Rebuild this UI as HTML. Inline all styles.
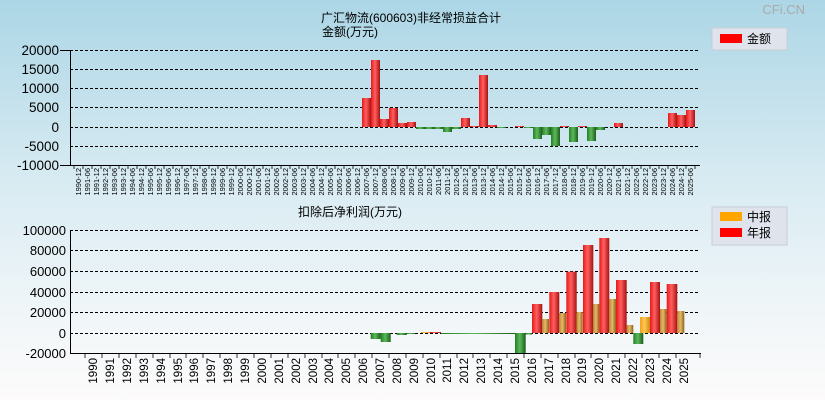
<!DOCTYPE html>
<html><head><meta charset="utf-8"><style>
html,body{margin:0;padding:0;width:825px;height:400px;overflow:hidden;}
body{background:linear-gradient(#acd6e6,#d8ebf2 45%,#eef5f8 75%,#fdfbfb);font-family:"Liberation Sans","Noto Sans CJK SC",sans-serif;}
svg{display:block;}
svg text{font-family:"Liberation Sans","Noto Sans CJK SC",sans-serif;}
</style></head><body>
<svg width="825" height="400" xmlns="http://www.w3.org/2000/svg">
<defs>
<linearGradient id="r" x1="0" x2="1"><stop offset="0" stop-color="#e81818"/><stop offset="0.45" stop-color="#ff6060"/><stop offset="1" stop-color="#a81010"/></linearGradient>
<linearGradient id="g" x1="0" x2="1"><stop offset="0" stop-color="#238023"/><stop offset="0.45" stop-color="#5cb85c"/><stop offset="1" stop-color="#1a5e1a"/></linearGradient>
<linearGradient id="t" x1="0" x2="1"><stop offset="0" stop-color="#b88a30"/><stop offset="0.45" stop-color="#e8b868"/><stop offset="1" stop-color="#8a6420"/></linearGradient>
<linearGradient id="o" x1="0" x2="1"><stop offset="0" stop-color="#f0a020"/><stop offset="0.45" stop-color="#ffc850"/><stop offset="1" stop-color="#d08810"/></linearGradient>
</defs>
<text x="805" y="14" font-size="13" fill="#aaa" text-anchor="end">CFi.CN</text>
<text x="411" y="22" font-size="12" text-anchor="middle">广汇物流(600603)非经常损益合计</text>
<text x="350" y="36" font-size="12" text-anchor="middle">金额(万元)</text>
<text x="350" y="216" font-size="12" text-anchor="middle">扣除后净利润(万元)</text>

<rect x="712" y="28" width="75" height="22" fill="#dfe4ec" stroke="#c8ccd4"/>
<rect x="720" y="34" width="22" height="9" fill="#f00"/>
<text x="747" y="43" font-size="12">金额</text>
<rect x="712" y="207" width="75" height="38" fill="#dfe4ec" stroke="#c8ccd4"/>
<rect x="720" y="212" width="22" height="9" fill="#ffa500"/>
<text x="747" y="221" font-size="12">中报</text>
<rect x="720" y="228" width="22" height="9" fill="#f00"/>
<text x="747" y="237" font-size="12">年报</text>

<g stroke="#000" stroke-dasharray="3,2" stroke-width="1">
<line x1="70" x2="700" y1="50.5" y2="50.5"/><line x1="70" x2="700" y1="69.5" y2="69.5"/><line x1="70" x2="700" y1="88.5" y2="88.5"/><line x1="70" x2="700" y1="107.5" y2="107.5"/><line x1="70" x2="700" y1="127.5" y2="127.5"/><line x1="70" x2="700" y1="146.5" y2="146.5"/>
</g>
<g font-size="13.5" text-anchor="end">
<text x="59" y="55">20000</text><text x="59" y="74">15000</text><text x="59" y="93">10000</text><text x="59" y="112">5000</text><text x="59" y="132">0</text><text x="59" y="151">-5000</text><text x="59" y="170">-10000</text>
</g>
<g stroke="#000"><line x1="60" x2="70" y1="50.5" y2="50.5"/><line x1="60" x2="70" y1="165.5" y2="165.5"/></g>
<g>
<rect x="364" y="100" width="9" height="27" fill="#999"/>
<rect x="362" y="98" width="9" height="29" fill="url(#r)"/>
<rect x="371" y="60" width="9" height="67" fill="url(#r)"/>
<rect x="380" y="119" width="9" height="8" fill="url(#r)"/>
<rect x="389" y="108" width="9" height="19" fill="url(#r)"/>
<rect x="398" y="123" width="9" height="4" fill="url(#r)"/>
<rect x="407" y="122" width="9" height="5" fill="url(#r)"/>
<rect x="416" y="127" width="9" height="2" fill="url(#g)"/>
<rect x="425" y="127" width="9" height="2" fill="url(#g)"/>
<rect x="434" y="127" width="9" height="2" fill="url(#g)"/>
<rect x="443" y="127" width="9" height="5" fill="url(#g)"/>
<rect x="452" y="127" width="9" height="2" fill="url(#g)"/>
<rect x="461" y="118" width="9" height="9" fill="url(#r)"/>
<rect x="470" y="126" width="9" height="1" fill="url(#r)"/>
<rect x="479" y="75" width="9" height="52" fill="url(#r)"/>
<rect x="488" y="125" width="9" height="2" fill="url(#r)"/>
<rect x="497" y="127" width="9" height="1" fill="url(#g)"/>
<rect x="515" y="126" width="9" height="1" fill="url(#r)"/>
<rect x="524" y="127" width="9" height="1" fill="url(#g)"/>
<rect x="533" y="127" width="9" height="12" fill="url(#g)"/>
<rect x="542" y="127" width="9" height="8" fill="url(#g)"/>
<rect x="551" y="127" width="9" height="19" fill="url(#g)"/>
<rect x="560" y="126" width="9" height="1" fill="url(#r)"/>
<rect x="569" y="127" width="9" height="15" fill="url(#g)"/>
<rect x="578" y="126" width="9" height="1" fill="url(#r)"/>
<rect x="587" y="127" width="9" height="14" fill="url(#g)"/>
<rect x="596" y="127" width="9" height="3" fill="url(#g)"/>
<rect x="614" y="123" width="9" height="4" fill="url(#r)"/>
<rect x="668" y="113" width="9" height="14" fill="url(#r)"/>
<rect x="677" y="115" width="9" height="12" fill="url(#r)"/>
<rect x="686" y="110" width="9" height="17" fill="url(#r)"/>
</g>
<g stroke="#000"><line x1="70.5" x2="70.5" y1="50" y2="166"/><line x1="70" x2="700" y1="165.5" y2="165.5"/></g>
<g stroke="#000" stroke-width="0.8">
<path d="M74 166v3M83 166v3M92 166v3M101 166v3M110 166v3M119 166v3M128 166v3M137 166v3M146 166v3M155 166v3M164 166v3M173 166v3M182 166v3M191 166v3M200 166v3M209 166v3M218 166v3M227 166v3M236 166v3M245 166v3M254 166v3M263 166v3M272 166v3M281 166v3M290 166v3M299 166v3M308 166v3M317 166v3M326 166v3M335 166v3M344 166v3M353 166v3M362 166v3M371 166v3M380 166v3M389 166v3M398 166v3M407 166v3M416 166v3M425 166v3M434 166v3M443 166v3M452 166v3M461 166v3M470 166v3M479 166v3M488 166v3M497 166v3M506 166v3M515 166v3M524 166v3M533 166v3M542 166v3M551 166v3M560 166v3M569 166v3M578 166v3M587 166v3M596 166v3M605 166v3M614 166v3M623 166v3M632 166v3M641 166v3M650 166v3M659 166v3M668 166v3M677 166v3M686 166v3M695 166v3"/>
</g>
<g font-size="7.5" text-anchor="end">
<text transform="translate(81,168) rotate(-90)">1990-12</text>
<text transform="translate(90,168) rotate(-90)">1991-06</text>
<text transform="translate(99,168) rotate(-90)">1991-12</text>
<text transform="translate(108,168) rotate(-90)">1992-12</text>
<text transform="translate(117,168) rotate(-90)">1993-06</text>
<text transform="translate(126,168) rotate(-90)">1993-12</text>
<text transform="translate(135,168) rotate(-90)">1994-06</text>
<text transform="translate(144,168) rotate(-90)">1994-12</text>
<text transform="translate(153,168) rotate(-90)">1995-06</text>
<text transform="translate(162,168) rotate(-90)">1995-12</text>
<text transform="translate(171,168) rotate(-90)">1996-06</text>
<text transform="translate(180,168) rotate(-90)">1996-12</text>
<text transform="translate(189,168) rotate(-90)">1997-06</text>
<text transform="translate(198,168) rotate(-90)">1997-12</text>
<text transform="translate(207,168) rotate(-90)">1998-06</text>
<text transform="translate(216,168) rotate(-90)">1998-12</text>
<text transform="translate(225,168) rotate(-90)">1999-06</text>
<text transform="translate(234,168) rotate(-90)">1999-12</text>
<text transform="translate(243,168) rotate(-90)">2000-06</text>
<text transform="translate(252,168) rotate(-90)">2000-12</text>
<text transform="translate(261,168) rotate(-90)">2001-06</text>
<text transform="translate(270,168) rotate(-90)">2001-12</text>
<text transform="translate(279,168) rotate(-90)">2002-06</text>
<text transform="translate(288,168) rotate(-90)">2002-12</text>
<text transform="translate(297,168) rotate(-90)">2003-06</text>
<text transform="translate(306,168) rotate(-90)">2003-12</text>
<text transform="translate(315,168) rotate(-90)">2004-06</text>
<text transform="translate(324,168) rotate(-90)">2004-12</text>
<text transform="translate(333,168) rotate(-90)">2005-06</text>
<text transform="translate(342,168) rotate(-90)">2005-12</text>
<text transform="translate(351,168) rotate(-90)">2006-06</text>
<text transform="translate(360,168) rotate(-90)">2006-12</text>
<text transform="translate(369,168) rotate(-90)">2007-06</text>
<text transform="translate(378,168) rotate(-90)">2007-12</text>
<text transform="translate(387,168) rotate(-90)">2008-06</text>
<text transform="translate(396,168) rotate(-90)">2008-12</text>
<text transform="translate(405,168) rotate(-90)">2009-06</text>
<text transform="translate(414,168) rotate(-90)">2009-12</text>
<text transform="translate(423,168) rotate(-90)">2010-06</text>
<text transform="translate(432,168) rotate(-90)">2010-12</text>
<text transform="translate(441,168) rotate(-90)">2011-06</text>
<text transform="translate(450,168) rotate(-90)">2011-12</text>
<text transform="translate(459,168) rotate(-90)">2012-06</text>
<text transform="translate(468,168) rotate(-90)">2012-12</text>
<text transform="translate(477,168) rotate(-90)">2013-06</text>
<text transform="translate(486,168) rotate(-90)">2013-12</text>
<text transform="translate(495,168) rotate(-90)">2014-06</text>
<text transform="translate(504,168) rotate(-90)">2014-12</text>
<text transform="translate(513,168) rotate(-90)">2015-06</text>
<text transform="translate(522,168) rotate(-90)">2015-12</text>
<text transform="translate(531,168) rotate(-90)">2016-06</text>
<text transform="translate(540,168) rotate(-90)">2016-12</text>
<text transform="translate(549,168) rotate(-90)">2017-06</text>
<text transform="translate(558,168) rotate(-90)">2017-12</text>
<text transform="translate(567,168) rotate(-90)">2018-06</text>
<text transform="translate(576,168) rotate(-90)">2018-12</text>
<text transform="translate(585,168) rotate(-90)">2019-06</text>
<text transform="translate(594,168) rotate(-90)">2019-12</text>
<text transform="translate(603,168) rotate(-90)">2020-06</text>
<text transform="translate(612,168) rotate(-90)">2020-12</text>
<text transform="translate(621,168) rotate(-90)">2021-06</text>
<text transform="translate(630,168) rotate(-90)">2021-12</text>
<text transform="translate(639,168) rotate(-90)">2022-06</text>
<text transform="translate(648,168) rotate(-90)">2022-12</text>
<text transform="translate(657,168) rotate(-90)">2023-06</text>
<text transform="translate(666,168) rotate(-90)">2023-12</text>
<text transform="translate(675,168) rotate(-90)">2024-06</text>
<text transform="translate(684,168) rotate(-90)">2024-12</text>
<text transform="translate(693,168) rotate(-90)">2025-06</text>
</g>

<g stroke="#000" stroke-dasharray="3,2" stroke-width="1">
<line x1="70" x2="700" y1="230.5" y2="230.5"/><line x1="70" x2="700" y1="250.5" y2="250.5"/><line x1="70" x2="700" y1="271.5" y2="271.5"/><line x1="70" x2="700" y1="292.5" y2="292.5"/><line x1="70" x2="700" y1="312.5" y2="312.5"/><line x1="70" x2="700" y1="333.5" y2="333.5"/>
</g>
<g font-size="13" text-anchor="end">
<text x="66" y="235">100000</text><text x="66" y="255">80000</text><text x="66" y="276">60000</text><text x="66" y="297">40000</text><text x="66" y="317">20000</text><text x="66" y="338">0</text><text x="66" y="358">-20000</text>
</g>
<g>
<rect x="370.7" y="333" width="10" height="6" fill="url(#g)"/>
<rect x="380.7" y="333" width="10" height="9" fill="url(#g)"/>
<rect x="396.7" y="333" width="10" height="2" fill="url(#g)"/>
<rect x="406.7" y="333" width="8" height="1" fill="url(#g)"/>
<rect x="421" y="332" width="9" height="1" fill="url(#o)"/>
<rect x="430" y="332" width="11" height="1" fill="url(#r)"/>
<rect x="441" y="333" width="74" height="1" fill="url(#g)"/>
<rect x="515" y="333" width="10.7" height="20" fill="url(#g)"/>
<rect x="525.7" y="333" width="6.3" height="1.5" fill="url(#g)"/>
<rect x="532" y="304" width="10.3" height="29" fill="url(#r)"/>
<rect x="542.3" y="319" width="6.7" height="14" fill="url(#t)"/>
<rect x="549.3" y="292" width="10" height="41" fill="url(#r)"/>
<rect x="559.3" y="313" width="6.7" height="20" fill="url(#t)"/>
<rect x="566.3" y="271.7" width="10.4" height="61.3" fill="url(#r)"/>
<rect x="576.7" y="312" width="6" height="21" fill="url(#t)"/>
<rect x="583" y="245" width="10.3" height="88" fill="url(#r)"/>
<rect x="593.3" y="304" width="6" height="29" fill="url(#t)"/>
<rect x="599.3" y="238" width="10" height="95" fill="url(#r)"/>
<rect x="609.3" y="299" width="6.7" height="34" fill="url(#t)"/>
<rect x="616" y="280" width="10.7" height="53" fill="url(#r)"/>
<rect x="626.7" y="325" width="6.6" height="8" fill="url(#t)"/>
<rect x="633.3" y="333" width="10" height="11" fill="url(#g)"/>
<rect x="640" y="317" width="10" height="16" fill="url(#o)"/>
<rect x="650" y="282" width="10" height="51" fill="url(#r)"/>
<rect x="660" y="309" width="6.7" height="24" fill="url(#t)"/>
<rect x="666.7" y="284" width="10.6" height="49" fill="url(#r)"/>
<rect x="677.3" y="311" width="7" height="22" fill="url(#t)"/>
</g>
<g stroke="#000"><line x1="70.5" x2="70.5" y1="230" y2="354"/><line x1="70" x2="701" y1="353.5" y2="353.5"/></g>
<g stroke="#000" stroke-width="0.8">
<path d="M85 354v4M102 354v4M119 354v4M136 354v4M153 354v4M170 354v4M186 354v4M203 354v4M220 354v4M237 354v4M254 354v4M271 354v4M288 354v4M305 354v4M322 354v4M338 354v4M355 354v4M372 354v4M389 354v4M406 354v4M423 354v4M440 354v4M457 354v4M473 354v4M490 354v4M507 354v4M524 354v4M541 354v4M558 354v4M575 354v4M591 354v4M608 354v4M625 354v4M642 354v4M659 354v4M676 354v4M700 354v4"/>
</g>
<g font-size="11.5" text-anchor="end">
<text transform="translate(97,358) rotate(-90)">1990</text>
<text transform="translate(114,358) rotate(-90)">1991</text>
<text transform="translate(131,358) rotate(-90)">1992</text>
<text transform="translate(148,358) rotate(-90)">1993</text>
<text transform="translate(165,358) rotate(-90)">1994</text>
<text transform="translate(182,358) rotate(-90)">1995</text>
<text transform="translate(198,358) rotate(-90)">1996</text>
<text transform="translate(215,358) rotate(-90)">1997</text>
<text transform="translate(232,358) rotate(-90)">1998</text>
<text transform="translate(249,358) rotate(-90)">1999</text>
<text transform="translate(266,358) rotate(-90)">2000</text>
<text transform="translate(283,358) rotate(-90)">2001</text>
<text transform="translate(300,358) rotate(-90)">2002</text>
<text transform="translate(317,358) rotate(-90)">2003</text>
<text transform="translate(333,358) rotate(-90)">2004</text>
<text transform="translate(350,358) rotate(-90)">2005</text>
<text transform="translate(367,358) rotate(-90)">2006</text>
<text transform="translate(384,358) rotate(-90)">2007</text>
<text transform="translate(401,358) rotate(-90)">2008</text>
<text transform="translate(418,358) rotate(-90)">2009</text>
<text transform="translate(435,358) rotate(-90)">2010</text>
<text transform="translate(451,358) rotate(-90)">2011</text>
<text transform="translate(468,358) rotate(-90)">2012</text>
<text transform="translate(485,358) rotate(-90)">2013</text>
<text transform="translate(502,358) rotate(-90)">2014</text>
<text transform="translate(519,358) rotate(-90)">2015</text>
<text transform="translate(536,358) rotate(-90)">2016</text>
<text transform="translate(553,358) rotate(-90)">2017</text>
<text transform="translate(570,358) rotate(-90)">2018</text>
<text transform="translate(586,358) rotate(-90)">2019</text>
<text transform="translate(603,358) rotate(-90)">2020</text>
<text transform="translate(620,358) rotate(-90)">2021</text>
<text transform="translate(637,358) rotate(-90)">2022</text>
<text transform="translate(654,358) rotate(-90)">2023</text>
<text transform="translate(671,358) rotate(-90)">2024</text>
<text transform="translate(688,358) rotate(-90)">2025</text>
</g>
</svg>
</body></html>
